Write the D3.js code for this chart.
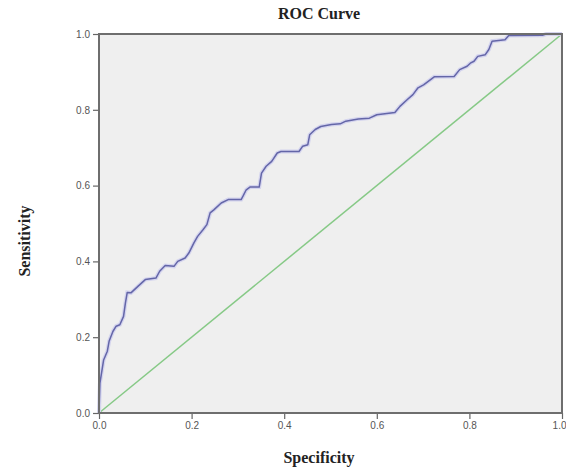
<!DOCTYPE html>
<html>
<head>
<meta charset="utf-8">
<script src="https://cdn.jsdelivr.net/npm/d3@7"></script>
<style>
  body { margin: 0; background: #fff; }
  .axis text { font-family: "Liberation Sans", Arial, sans-serif; font-size: 10px; fill: #555; }
  .axis line { stroke: #666; stroke-width: 1.2; }
  .label { font-family: "Liberation Serif", "Times New Roman", serif; font-weight: bold; fill: #222; }
</style>
</head>
<body>
<div id="viz"></div>
<script>
// ROC curve points (x = 1 - specificity, y = sensitivity)
var rocX = [0, 0.002, 0.01, 0.018, 0.022, 0.03, 0.037, 0.045, 0.053, 0.057, 0.061, 0.069, 0.084, 0.1, 0.123,
  0.131, 0.143, 0.162, 0.17, 0.186, 0.194, 0.205, 0.213, 0.225, 0.233, 0.24, 0.248, 0.264, 0.279, 0.307,
  0.311, 0.318, 0.326, 0.346, 0.351, 0.361, 0.373, 0.385, 0.393, 0.432, 0.44, 0.451, 0.455, 0.467, 0.479,
  0.502, 0.521, 0.533, 0.56, 0.584, 0.6, 0.639, 0.65, 0.666, 0.678, 0.689, 0.701, 0.724, 0.767, 0.779,
  0.795, 0.802, 0.81, 0.818, 0.834, 0.842, 0.849, 0.877, 0.885, 0.959, 0.966, 1];
var rocY = [0, 0.079, 0.14, 0.163, 0.19, 0.215, 0.229, 0.233, 0.255, 0.29, 0.318, 0.317, 0.334, 0.352, 0.356,
  0.374, 0.389, 0.387, 0.4, 0.409, 0.422, 0.449, 0.466, 0.484, 0.497, 0.528, 0.536, 0.554, 0.563, 0.563,
  0.572, 0.589, 0.596, 0.596, 0.633, 0.651, 0.664, 0.686, 0.69, 0.69, 0.704, 0.708, 0.734, 0.748, 0.756,
  0.761, 0.763, 0.77, 0.776, 0.778, 0.787, 0.793, 0.809, 0.827, 0.84, 0.858, 0.866, 0.887, 0.888, 0.906,
  0.915, 0.923, 0.928, 0.941, 0.945, 0.959, 0.981, 0.985, 0.996, 0.997, 1, 1];
// reference diagonal
var refX = [0, 1];
var refY = [0, 1];
var ticks = [0, 0.2, 0.4, 0.6, 0.8, 1.0];

var width = 566, height = 469;
var mLeft = 99, mRight = 562, mTop = 34, mBottom = 413;

var svg = d3.select('#viz').append('svg')
  .attr('width', width)
  .attr('height', height);

var x = d3.scaleLinear().domain([0, 1]).range([mLeft, mRight]);
var y = d3.scaleLinear().domain([0, 1]).range([mBottom, mTop]);

// plot background
svg.append('rect')
  .attr('x', mLeft).attr('y', mTop)
  .attr('width', mRight - mLeft).attr('height', mBottom - mTop)
  .attr('fill', '#efefef');

var line = d3.line()
  .x(function (d) { return x(d[0]); })
  .y(function (d) { return y(d[1]); });

// diagonal reference line
svg.append('path')
  .datum(d3.zip(refX, refY))
  .attr('d', line)
  .attr('fill', 'none')
  .attr('stroke', '#86c986')
  .attr('stroke-width', 1.5);

// roc curve, with a soft halo like the original
var roc = d3.zip(rocX, rocY);
svg.append('path')
  .datum(roc)
  .attr('d', line)
  .attr('fill', 'none')
  .attr('stroke', '#d4d4ee')
  .attr('stroke-width', 4);
svg.append('path')
  .datum(roc)
  .attr('d', line)
  .attr('fill', 'none')
  .attr('stroke', '#6466a8')
  .attr('stroke-width', 1.5)
  .attr('stroke-linejoin', 'round');

// axes
var xAxis = svg.append('g')
  .attr('class', 'axis')
  .attr('transform', 'translate(0,' + mBottom + ')')
  .call(d3.axisBottom(x).tickValues(ticks).tickFormat(d3.format('.1f')).tickSize(6).tickSizeOuter(0));
xAxis.select('.domain').remove();
// last label sits at the window edge; keep it inside
xAxis.selectAll('.tick').filter(function (d) { return d === 1; })
  .select('text').attr('text-anchor', 'end').attr('x', 4);

var yAxis = svg.append('g')
  .attr('class', 'axis')
  .attr('transform', 'translate(' + mLeft + ',0)')
  .call(d3.axisLeft(y).tickValues(ticks).tickFormat(d3.format('.1f')).tickSize(6).tickSizeOuter(0));
yAxis.select('.domain').remove();

// frame
svg.append('rect')
  .attr('x', mLeft).attr('y', mTop)
  .attr('width', mRight - mLeft).attr('height', mBottom - mTop)
  .attr('fill', 'none')
  .attr('stroke', '#6e6e6e')
  .attr('stroke-width', 2);

// titles
svg.append('text')
  .attr('class', 'label')
  .attr('x', 319).attr('y', 19)
  .attr('text-anchor', 'middle')
  .attr('font-size', '16px')
  .text('ROC Curve');

svg.append('text')
  .attr('class', 'label')
  .attr('x', 319).attr('y', 463)
  .attr('text-anchor', 'middle')
  .attr('font-size', '16px')
  .text('Specificity');

svg.append('text')
  .attr('class', 'label')
  .attr('transform', 'translate(30,241) rotate(-90)')
  .attr('text-anchor', 'middle')
  .attr('font-size', '16px')
  .text('Sensitivity');
</script>
</body>
</html>
